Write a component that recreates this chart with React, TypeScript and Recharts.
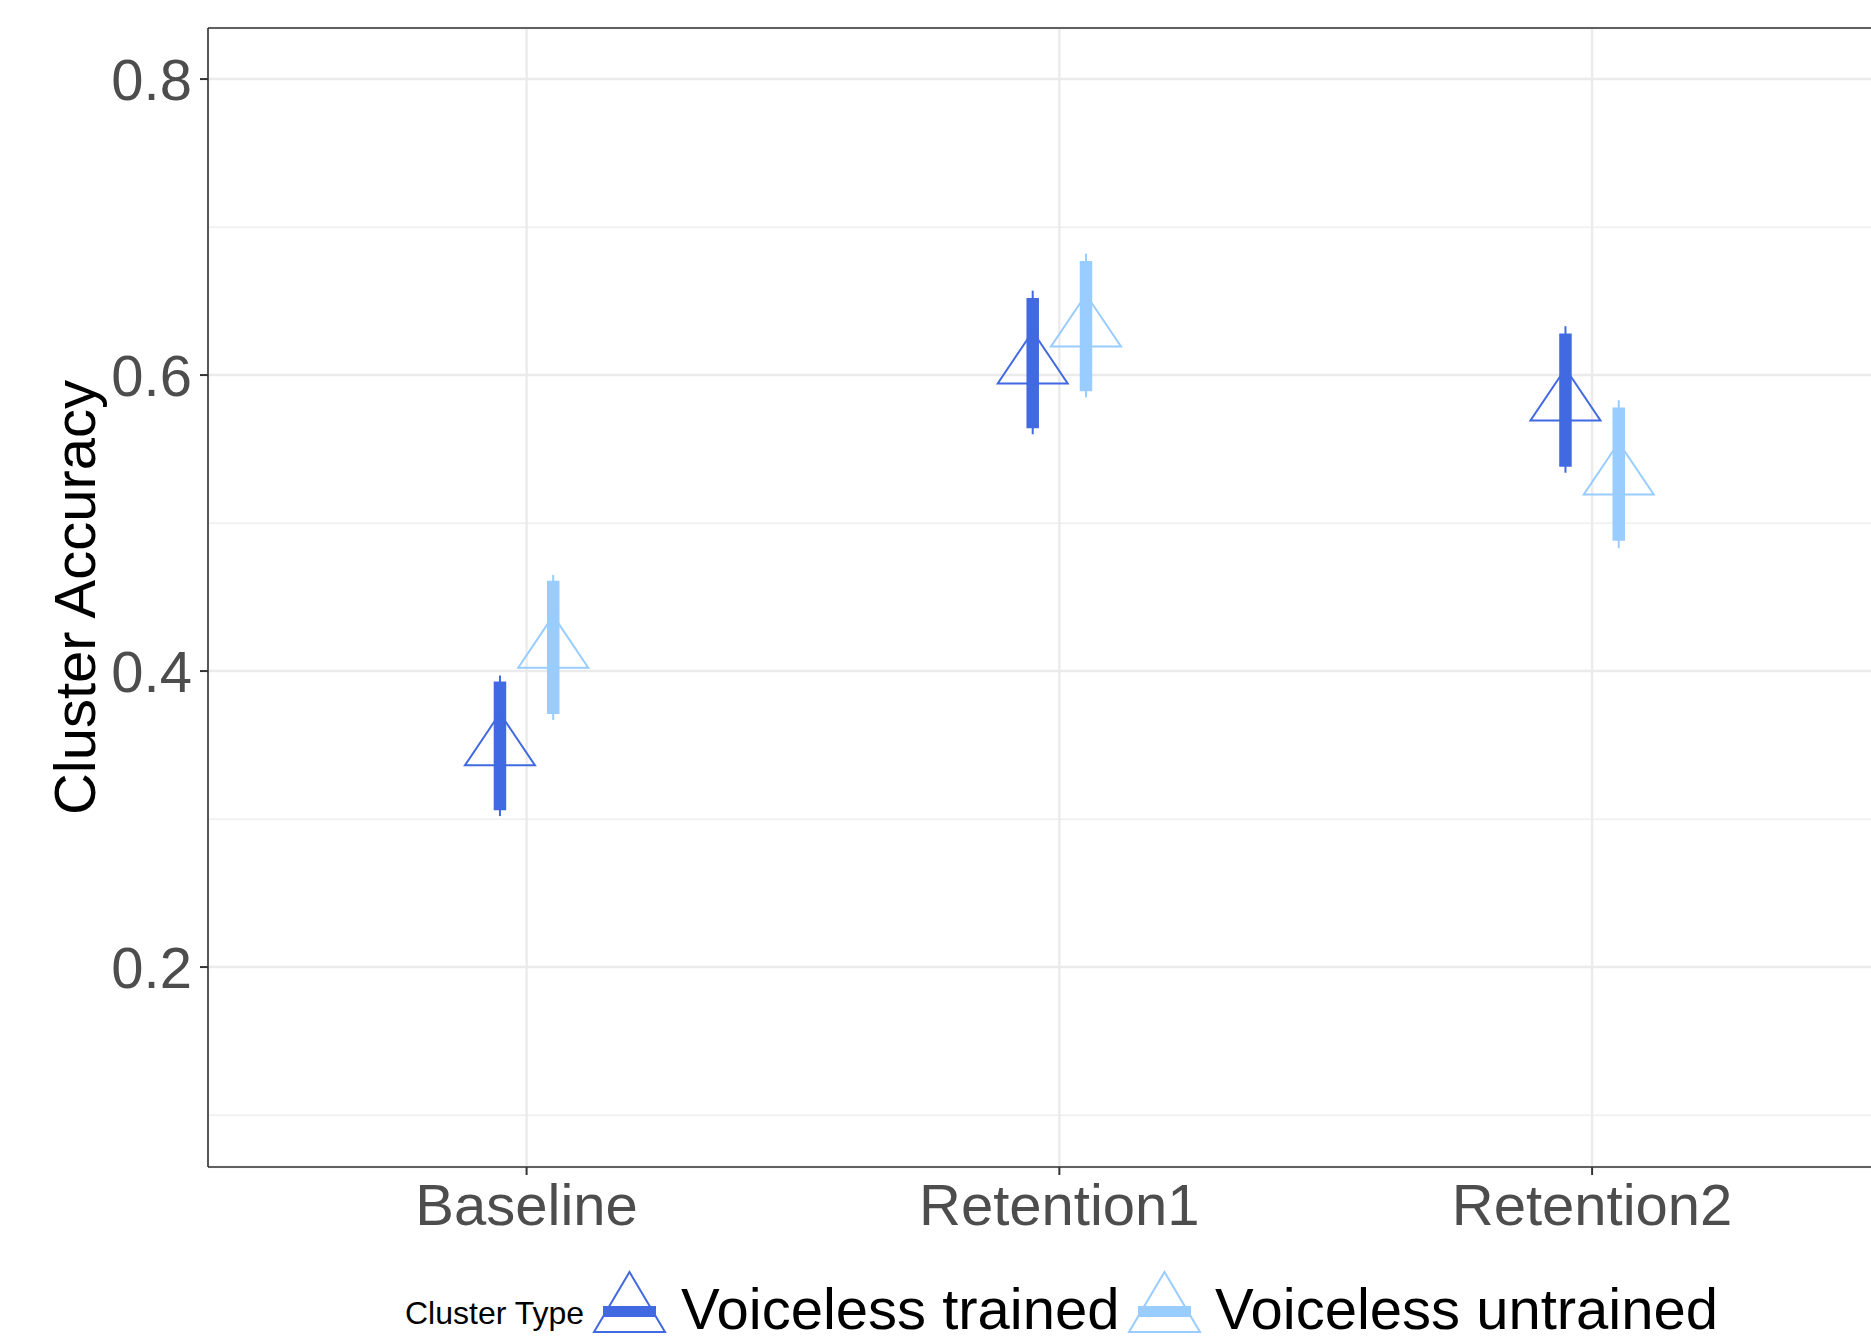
import { ComposedChart, Scatter, ErrorBar, XAxis, YAxis, CartesianGrid, ReferenceLine } from 'recharts';

const categories = ['Baseline', 'Retention1', 'Retention2'];

const trainedMean = [0.348, 0.606, 0.581];
const trainedInnerLo = [0.306, 0.564, 0.538];
const trainedInnerHi = [0.393, 0.652, 0.628];
const trainedOuterLo = [0.302, 0.56, 0.534];
const trainedOuterHi = [0.397, 0.657, 0.633];

const untrainedMean = [0.414, 0.631, 0.531];
const untrainedInnerLo = [0.371, 0.589, 0.488];
const untrainedInnerHi = [0.461, 0.677, 0.578];
const untrainedOuterLo = [0.367, 0.585, 0.483];
const untrainedOuterHi = [0.465, 0.682, 0.583];

const yTicks = [0.2, 0.4, 0.6, 0.8];
const yMinorTicks = [0.1, 0.3, 0.5, 0.7];

const DARK = '#4169E1';
const LIGHT = '#99CCFF';
const FONT = '"Liberation Sans", Arial, Helvetica, sans-serif';
const DODGE = 0.05;
const Y_DOMAIN = [0.0649, 0.8345];
// panel runs a few px past the right edge of the picture, like the cropped original
const X_DOMAIN = [0.402, 3.531];

function buildRows(mean: number[], inLo: number[], inHi: number[], outLo: number[], outHi: number[], shift: number) {
  return mean.map((m, i) => ({
    x: i + 1 + shift,
    y: m,
    inner: [m - inLo[i], inHi[i] - m],
    outer: [m - outLo[i], outHi[i] - m],
  }));
}

const series = [
  {
    name: 'Voiceless trained',
    color: DARK,
    rows: buildRows(trainedMean, trainedInnerLo, trainedInnerHi, trainedOuterLo, trainedOuterHi, -DODGE),
  },
  {
    name: 'Voiceless untrained',
    color: LIGHT,
    rows: buildRows(untrainedMean, untrainedInnerLo, untrainedInnerHi, untrainedOuterLo, untrainedOuterHi, DODGE),
  },
];

// open triangle, point sits at the centroid like R's pch 2
function triPath(cx: number, cy: number) {
  const up = 34.7;
  const down = 17.3;
  const half = 35;
  return `M${cx},${cy - up}L${cx + half},${cy + down}L${cx - half},${cy + down}Z`;
}

const makeShape = (color: string) => (props: any) => {
  const { cx, cy } = props;
  if (cx == null || cy == null) return <g />;
  return <path d={triPath(cx, cy)} fill="none" stroke={color} strokeWidth={2} />;
};

const legendKeys = [
  { x: 594, textX: 681 },
  { x: 1129, textX: 1215 },
];

function LegendBox() {
  return (
    <svg width={1871} height={81} style={{ position: 'absolute', left: 0, top: 1260 }}>
      <text x={405} y={64} fontSize={32} fontFamily={FONT} fill="#000">
        Cluster Type
      </text>
      {series.map((s, i) => {
        const k = legendKeys[i];
        return (
          <g key={s.name}>
            <path
              d={`M${k.x + 35.5},12L${k.x + 71},72L${k.x},72Z`}
              fill="none"
              stroke={s.color}
              strokeWidth={2}
            />
            <rect x={k.x + 9} y={46} width={53} height={11} fill={s.color} />
            <text x={k.textX} y={69} fontSize={58} fontFamily={FONT} fill="#000">
              {s.name}
            </text>
          </g>
        );
      })}
    </svg>
  );
}

export default function App() {
  return (
    <div style={{ position: 'absolute', left: 0, top: 0, width: 1871, height: 1341, background: '#fff', overflow: 'hidden' }}>
      <ComposedChart width={1875} height={1341} margin={{ top: 28, right: 0, left: 0, bottom: 0 }}>
        <CartesianGrid yAxisId="minor" vertical={false} stroke="#EBEBEB" strokeWidth={1.2} />
        <CartesianGrid stroke="#EBEBEB" strokeWidth={2.4} />
        <XAxis
          dataKey="x"
          type="number"
          domain={X_DOMAIN}
          allowDataOverflow
          ticks={[1, 2, 3]}
          tickFormatter={(v: number) => categories[Math.round(v) - 1]}
          height={174}
          tickSize={8}
          tickMargin={9}
          tick={{ fill: '#4D4D4D', fontSize: 58, fontFamily: FONT }}
          axisLine={{ stroke: '#333', strokeWidth: 1.6 }}
          tickLine={{ stroke: '#333', strokeWidth: 2 }}
        />
        <YAxis
          type="number"
          domain={Y_DOMAIN}
          allowDataOverflow
          ticks={yTicks}
          tickFormatter={(v: number) => v.toFixed(1)}
          width={208}
          tickSize={8}
          tickMargin={8}
          tick={{ fill: '#4D4D4D', fontSize: 58, fontFamily: FONT }}
          axisLine={{ stroke: '#333', strokeWidth: 1.6 }}
          tickLine={{ stroke: '#333', strokeWidth: 2 }}
          label={(p: any) => {
            const vb = p.viewBox || { y: 28, height: 1139 };
            const cy = vb.y + vb.height / 2;
            return (
              <text
                x={95}
                y={cy}
                transform={`rotate(-90, 95, ${cy})`}
                textAnchor="middle"
                fontSize={58}
                fontFamily={FONT}
                fill="#000"
              >
                Cluster Accuracy
              </text>
            );
          }}
        />
        <YAxis yAxisId="minor" type="number" domain={Y_DOMAIN} allowDataOverflow ticks={yMinorTicks} hide />
        <ReferenceLine y={Y_DOMAIN[1]} stroke="#333" strokeWidth={1.6} />
        {series.map((s) => (
          <Scatter
            key={s.name}
            name={s.name}
            data={s.rows}
            dataKey="y"
            fill={s.color}
            shape={makeShape(s.color)}
            isAnimationActive={false}
          >
            <ErrorBar dataKey="outer" direction="y" width={0} stroke={s.color} strokeWidth={2} isAnimationActive={false} />
            <ErrorBar dataKey="inner" direction="y" width={0} stroke={s.color} strokeWidth={12.5} isAnimationActive={false} />
          </Scatter>
        ))}
      </ComposedChart>
      <LegendBox />
    </div>
  );
}
